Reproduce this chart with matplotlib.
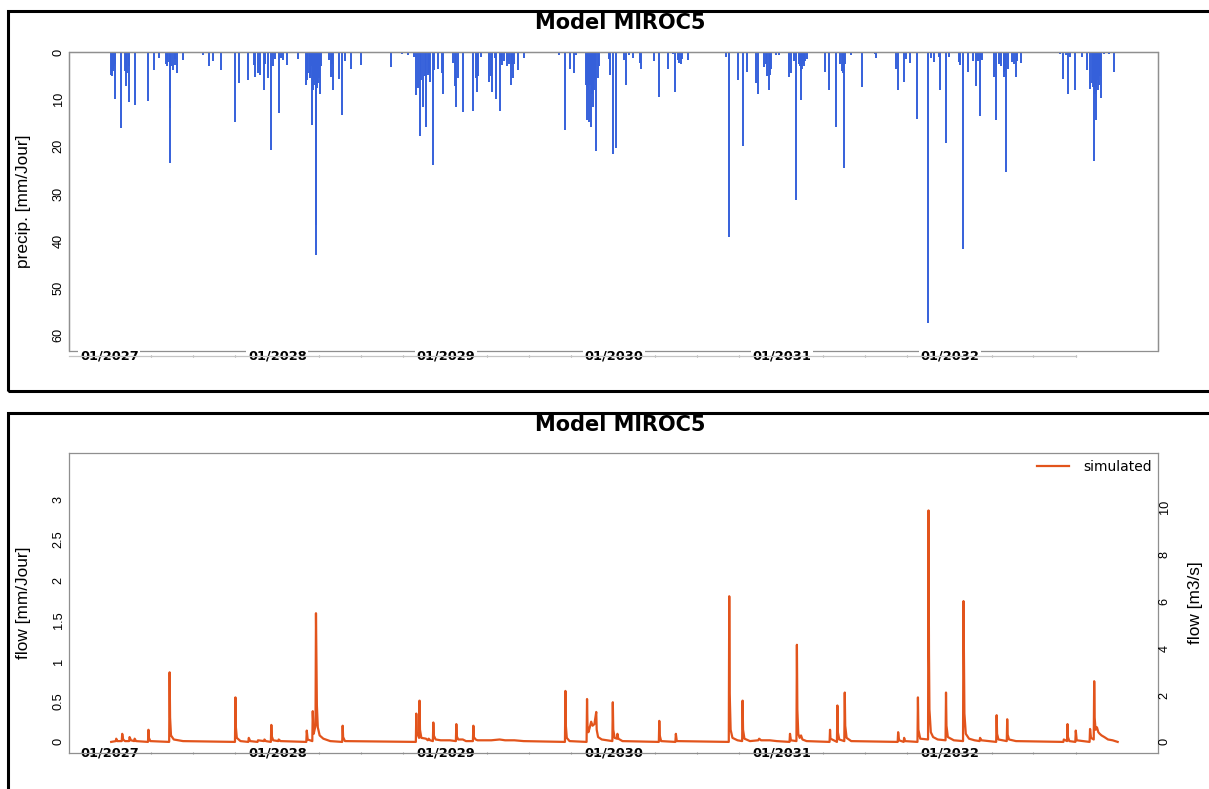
import pandas as pd
import matplotlib
matplotlib.use('Agg')
import matplotlib.pyplot as plt
import matplotlib.dates as mdates
from matplotlib.patches import Rectangle

# --- Daily series, day numbers counted from 01/01/2027 ---
period_start = pd.Timestamp('2027-01-01')
period_end = pd.Timestamp('2032-12-31')

# precipitation events: (day, mm/day)
rain_2027 = [(4, 4.9), (5, 5.0), (6, 4.0), (7, 3.5), (9, 4.0), (10, 3.0), (12, 10.0), (13, 2.5),
             (26, 16.2), (35, 4.0), (37, 7.3), (39, 4.5), (42, 10.5), (43, 3.0), (55, 11.2),
             (84, 10.3), (97, 3.8), (107, 1.2), (124, 2.5), (126, 3.0), (128, 2.2), (131, 23.6),
             (132, 11.9), (135, 3.0), (138, 3.8), (142, 2.8), (143, 1.5), (148, 4.5), (160, 1.7),
             (203, 0.6), (216, 2.9), (226, 1.9), (243, 3.8), (272, 14.9), (281, 6.5), (301, 5.9),
             (315, 2.7), (317, 5.4), (323, 4.5), (328, 4.9), (335, 8.0), (339, 2.5), (345, 5.6),
             (352, 20.8), (355, 3.0), (359, 1.5)]
rain_2028 = [(368, 13.0), (373, 1.3), (378, 1.7), (387, 2.8), (411, 1.5), (428, 7.0), (429, 6.0),
             (432, 4.5), (435, 5.6), (436, 5.0), (438, 3.0), (441, 15.5), (442, 8.0), (445, 7.0),
             (446, 6.0), (448, 43.0), (449, 36.6), (450, 7.0), (452, 7.7), (453, 6.5), (455, 4.9),
             (456, 5.5), (458, 8.8), (460, 3.0), (478, 1.7), (482, 5.4), (484, 2.5), (487, 8.0),
             (500, 5.7), (506, 13.3), (511, 1.9), (526, 3.5), (547, 2.8), (612, 3.1), (636, 0.5),
             (649, 0.6), (662, 1.0), (667, 9.1), (670, 7.7), (674, 17.9), (677, 6.0), (681, 11.7),
             (685, 5.0), (688, 15.8), (692, 4.8), (694, 4.5), (697, 6.3), (703, 23.9), (706, 3.8),
             (714, 3.5), (723, 4.5), (726, 8.8)]
rain_2029 = [(733, 0.3), (746, 2.4), (751, 7.3), (753, 11.6), (757, 5.6), (768, 12.8), (790, 12.6),
             (796, 5.6), (798, 8.4), (802, 5.0), (808, 1.0), (826, 6.3), (830, 5.0), (831, 8.4),
             (837, 1.3), (840, 10.0), (848, 12.6), (851, 2.0), (853, 2.8), (858, 2.0), (864, 2.9),
             (869, 2.5), (873, 6.9), (875, 2.5), (878, 5.6), (880, 2.5), (889, 3.8), (902, 1.3),
             (978, 0.6), (991, 16.5), (1002, 3.5), (1010, 4.5), (1014, 0.6), (1036, 7.0),
             (1037, 7.5), (1039, 14.4), (1040, 8.0), (1041, 6.5), (1043, 14.8), (1045, 7.0),
             (1047, 15.8), (1048, 9.0), (1050, 11.6), (1052, 7.5), (1054, 8.0), (1056, 6.0),
             (1058, 21.0), (1061, 5.6), (1064, 3.0), (1086, 1.5), (1088, 4.9), (1094, 21.7)]
rain_2030 = [(1102, 20.4), (1119, 1.7), (1122, 6.9), (1130, 0.6), (1137, 1.3), (1152, 2.4),
             (1155, 3.7), (1184, 2.0), (1195, 9.5), (1215, 3.5), (1224, 0.5), (1230, 8.5),
             (1235, 1.7), (1238, 2.4), (1242, 2.6), (1244, 1.5), (1257, 1.7), (1293, 0.2),
             (1340, 1.0), (1346, 39.2), (1365, 5.9), (1376, 20.0), (1385, 4.2), (1405, 6.6),
             (1409, 8.9), (1422, 3.1), (1427, 2.5), (1430, 5.0), (1433, 8.0), (1436, 4.9),
             (1438, 3.5), (1448, 0.6), (1455, 0.6)]
rain_2031 = [(1477, 5.2), (1481, 4.5), (1488, 2.0), (1493, 31.4), (1499, 2.5), (1500, 3.0),
             (1503, 10.2), (1504, 4.0), (1505, 3.5), (1507, 2.5), (1509, 3.0), (1512, 2.0),
             (1516, 1.5), (1555, 4.2), (1564, 8.0), (1580, 15.8), (1588, 2.5), (1592, 4.0),
             (1595, 4.5), (1597, 24.5), (1599, 2.5), (1612, 0.6), (1635, 7.5), (1663, 0.5),
             (1666, 1.2), (1709, 3.5), (1713, 8.0), (1727, 6.3), (1730, 1.5), (1740, 2.4),
             (1756, 14.2), (1779, 57.4), (1785, 1.3), (1792, 2.2), (1803, 1.0), (1805, 8.0),
             (1818, 19.4), (1825, 1.0)]
rain_2032 = [(1847, 2.2), (1849, 2.8), (1856, 41.8), (1866, 4.2), (1876, 2.0), (1883, 7.3),
             (1887, 2.0), (1891, 13.6), (1894, 1.5), (1897, 1.7), (1922, 5.2), (1927, 14.4),
             (1933, 2.5), (1937, 3.0), (1943, 4.2), (1944, 5.2), (1946, 4.0), (1948, 25.4),
             (1953, 3.5), (1962, 2.2), (1965, 2.5), (1970, 5.2), (1972, 2.0), (1982, 2.3),
             (2066, 0.4), (2072, 5.7), (2078, 0.7), (2084, 9.0), (2087, 1.0), (2099, 8.0),
             (2114, 1.0), (2125, 3.8), (2130, 7.9), (2136, 6.5), (2138, 7.5), (2140, 23.1),
             (2141, 9.0), (2143, 14.4), (2144, 8.5), (2145, 7.0), (2147, 6.0), (2148, 8.0),
             (2150, 7.0), (2152, 5.0), (2155, 9.7), (2161, 0.4), (2172, 0.5), (2183, 4.2)]

# simulated discharge: (day, mm/day)
flow_2027 = [(4, 0.0), (14, 0.01), (15, 0.04), (17, 0.01), (27, 0.01), (28, 0.10), (30, 0.03),
             (34, 0.01), (43, 0.01), (44, 0.06), (47, 0.02), (54, 0.01), (55, 0.04), (58, 0.01),
             (84, 0.0), (85, 0.15), (86, 0.05), (89, 0.01), (130, 0.0), (131, 0.86), (132, 0.30),
             (134, 0.08), (140, 0.03), (160, 0.01), (273, 0.0), (274, 0.55), (275, 0.18),
             (277, 0.05), (285, 0.01), (302, 0.0), (303, 0.05), (306, 0.01), (322, 0.0),
             (323, 0.02), (336, 0.01), (337, 0.03), (340, 0.01), (351, 0.0), (352, 0.21),
             (353, 0.07), (356, 0.02)]
flow_2028 = [(367, 0.01), (368, 0.03), (372, 0.01), (428, 0.0), (429, 0.14), (431, 0.03),
             (441, 0.01), (442, 0.38), (444, 0.10), (448, 0.20), (449, 1.59), (450, 0.95),
             (451, 0.45), (453, 0.18), (457, 0.08), (465, 0.04), (480, 0.01), (506, 0.0),
             (507, 0.20), (508, 0.06), (512, 0.01), (666, 0.0), (667, 0.35), (668, 0.12),
             (673, 0.05), (674, 0.51), (675, 0.15), (678, 0.05), (688, 0.04), (692, 0.02),
             (694, 0.04), (697, 0.02), (703, 0.01), (704, 0.24), (705, 0.08), (709, 0.03),
             (720, 0.02), (726, 0.02)]
flow_2029 = [(740, 0.02), (753, 0.01), (754, 0.22), (755, 0.07), (758, 0.03), (768, 0.03),
             (775, 0.01), (790, 0.01), (791, 0.20), (792, 0.06), (796, 0.03), (800, 0.02),
             (830, 0.02), (848, 0.03), (860, 0.02), (880, 0.02), (900, 0.01), (990, 0.0),
             (991, 0.63), (992, 0.20), (994, 0.05), (1000, 0.01), (1037, 0.0), (1038, 0.53),
             (1039, 0.20), (1041, 0.12), (1044, 0.18), (1047, 0.25), (1050, 0.20), (1054, 0.22),
             (1058, 0.37), (1059, 0.15), (1062, 0.06), (1070, 0.03), (1093, 0.01), (1094, 0.49),
             (1095, 0.15)]
flow_2030 = [(1098, 0.05), (1103, 0.04), (1104, 0.10), (1106, 0.04), (1115, 0.01), (1194, 0.0),
             (1195, 0.26), (1196, 0.08), (1199, 0.01), (1230, 0.0), (1231, 0.10), (1233, 0.01),
             (1346, 0.0), (1347, 1.80), (1348, 0.60), (1350, 0.15), (1354, 0.05), (1365, 0.02),
             (1375, 0.01), (1376, 0.51), (1377, 0.15), (1380, 0.04), (1392, 0.01), (1410, 0.02),
             (1412, 0.04), (1416, 0.02), (1435, 0.02), (1450, 0.01)]
flow_2031 = [(1478, 0.0), (1479, 0.10), (1481, 0.02), (1493, 0.01), (1494, 1.20), (1495, 0.40),
             (1497, 0.10), (1500, 0.05), (1503, 0.08), (1506, 0.03), (1515, 0.01), (1565, 0.0),
             (1566, 0.15), (1567, 0.04), (1581, 0.0), (1582, 0.45), (1583, 0.12), (1586, 0.03),
             (1597, 0.01), (1598, 0.61), (1599, 0.20), (1602, 0.05), (1612, 0.01), (1713, 0.0),
             (1714, 0.12), (1716, 0.02), (1726, 0.0), (1727, 0.05), (1729, 0.01), (1756, 0.0),
             (1757, 0.55), (1758, 0.15), (1762, 0.04), (1779, 0.03), (1780, 2.86), (1781, 1.10),
             (1782, 0.40), (1785, 0.12), (1790, 0.06), (1800, 0.03), (1817, 0.02), (1818, 0.61),
             (1819, 0.20), (1822, 0.06)]
flow_2032 = [(1835, 0.02), (1855, 0.01), (1856, 1.74), (1857, 1.00), (1858, 0.35), (1861, 0.10),
             (1868, 0.04), (1880, 0.02), (1891, 0.01), (1892, 0.05), (1895, 0.02), (1910, 0.01),
             (1927, 0.0), (1928, 0.33), (1929, 0.10), (1932, 0.03), (1950, 0.01), (1951, 0.28),
             (1952, 0.09), (1955, 0.03), (1970, 0.01), (2073, 0.0), (2074, 0.03), (2081, 0.01),
             (2082, 0.22), (2083, 0.06), (2086, 0.01), (2099, 0.0), (2100, 0.14), (2102, 0.02),
             (2130, 0.0), (2131, 0.16), (2133, 0.05), (2139, 0.03), (2140, 0.75), (2141, 0.30),
             (2143, 0.15), (2146, 0.18), (2149, 0.12), (2152, 0.10), (2156, 0.08), (2162, 0.06),
             (2170, 0.03), (2180, 0.02), (2191, 0.0)]

catchment_km2 = 298.0                    # mm/day -> m3/s : area / 86.4
year_ticks = ['2027-01-01', '2028-01-01', '2029-01-01', '2030-01-01', '2031-01-01', '2032-01-01']
year_labels = ['01/2027', '01/2028', '01/2029', '01/2030', '01/2031', '01/2032']
precip_ticks = [0, 10, 20, 30, 40, 50, 60]
flow_ticks = [0, 0.5, 1, 1.5, 2, 2.5, 3]
flow_tick_labels = ['0', '0.5', '1', '1.5', '2', '2.5', '3']
m3s_ticks = [0, 2, 4, 6, 8, 10]

RAIN_COLOR = '#3560DA'
FLOW_COLOR = '#E2541C'
BOX_GRAY = '#8f8f8f'
SIDE_FONT = 'Liberation Sans'


def to_dates(days):
    return period_start + pd.to_timedelta(days, unit='D')


rain = rain_2027 + rain_2028 + rain_2029 + rain_2030 + rain_2031 + rain_2032
flow = flow_2027 + flow_2028 + flow_2029 + flow_2030 + flow_2031 + flow_2032
rain_dates = to_dates([d for d, _ in rain])
rain_mm = [v for _, v in rain]
flow_dates = to_dates([d for d, _ in flow])
flow_mm = [v for _, v in flow]

# R style 4% extension of the date range
span = period_end - period_start
x_lo = period_start - 0.04 * span
x_hi = period_end + 0.04 * span
tick_dates = pd.to_datetime(year_ticks)

W, H = 1209, 789
fig = plt.figure(figsize=(W / 100, H / 100), dpi=100)


def px_axes(left, top, right, bottom):
    return [left / W, 1 - bottom / H, (right - left) / W, (bottom - top) / H]


# outer frames around each panel
fig.patches.append(Rectangle((8 / W, 1 - 391 / H), 1.1, (391 - 11) / H, transform=fig.transFigure,
                             fill=False, ec='black', lw=2.2))
fig.patches.append(Rectangle((8 / W, -0.1), 1.1, (1 - 413 / H) + 0.1, transform=fig.transFigure,
                             fill=False, ec='black', lw=2.2))

ax1 = fig.add_axes(px_axes(69, 52, 1158, 351))
ax2 = fig.add_axes(px_axes(69, 453, 1158, 753))


def date_axis(ax):
    ax.set_xlim(x_lo, x_hi)
    ax.set_xticks(tick_dates)
    ax.set_xticklabels(year_labels, fontsize=9.4, fontweight='bold', family='DejaVu Sans')
    ax.xaxis.set_minor_locator(mdates.MonthLocator(bymonth=[4, 7, 10]))
    ax.tick_params(axis='x', which='major', length=0, pad=0)
    ax.tick_params(axis='x', which='minor', length=1.5, width=0.8, color='#9a9a9a', direction='inout')
    for lbl in ax.get_xticklabels():
        lbl.set_va('center')
        lbl.set_bbox(dict(facecolor='white', edgecolor='none', pad=1.2))


def frame(ax):
    for sp in ax.spines.values():
        sp.set_color(BOX_GRAY)
        sp.set_linewidth(0.9)


def side_ticks(ax, pad):
    ax.tick_params(axis='y', length=0, pad=pad)
    plt.setp(ax.get_yticklabels(), rotation=90, va='center', family=SIDE_FONT, fontsize=9.2)


# --- precipitation (inverted bars) ---
ax1.vlines(rain_dates, 0, rain_mm, color=RAIN_COLOR, lw=1.4)
ax1.set_ylim(63.4, 0)
frame(ax1)
ax1.patch.set_edgecolor(BOX_GRAY)
ax1.patch.set_linewidth(0.9)
ax1.spines['bottom'].set_position(('outward', 3.6))
ax1.spines['bottom'].set_color('#c4c4c4')
ax1.spines['bottom'].set_bounds(mdates.date2num(x_lo), mdates.date2num(pd.Timestamp('2032-10-01')))
date_axis(ax1)
ax1.set_yticks(precip_ticks)
side_ticks(ax1, 3)
ax1.set_ylabel('precip. [mm/Jour]', family=SIDE_FONT, fontsize=12.4, va='center')
ax1.yaxis.set_label_coords(-0.0422, 0.5)
ax1.text(0.506, (351 - 29) / 299, 'Model MIROC5', transform=ax1.transAxes,
         ha='center', va='baseline', fontsize=15, fontweight='bold', family='DejaVu Sans')

# --- simulated flow ---
ax2.plot(flow_dates, flow_mm, color=FLOW_COLOR, lw=1.6, label='simulated')
ax2.set_ylim(-0.137, 3.57)
frame(ax2)
date_axis(ax2)
ax2.set_yticks(flow_ticks)
ax2.set_yticklabels(flow_tick_labels)
side_ticks(ax2, 3)
ax2.set_ylabel('flow [mm/Jour]', family=SIDE_FONT, fontsize=12.4, va='center')
ax2.yaxis.set_label_coords(-0.0422, 0.5)
ax2.text(0.506, (753 - 431) / 300, 'Model MIROC5', transform=ax2.transAxes,
         ha='center', va='baseline', fontsize=15, fontweight='bold', family='DejaVu Sans')
ax2.legend(loc='center right', bbox_to_anchor=(0.9945, 0.953), frameon=False,
           borderaxespad=0, borderpad=0, handlelength=2.3, handletextpad=1.05,
           prop={'family': 'DejaVu Sans', 'size': 10})

# right axis in m3/s
k = catchment_km2 / 86.4
ax3 = ax2.twinx()
ax3.set_ylim(-0.137 * k, 3.57 * k)
for sp in ax3.spines.values():
    sp.set_visible(False)
ax3.set_yticks(m3s_ticks)
side_ticks(ax3, 0.5)
ax3.set_ylabel('flow [m3/s]', family=SIDE_FONT, fontsize=12.4, va='center', rotation=90)
ax3.yaxis.set_label_coords(1.034, 0.5)

fig.savefig('out.png', dpi=100)
